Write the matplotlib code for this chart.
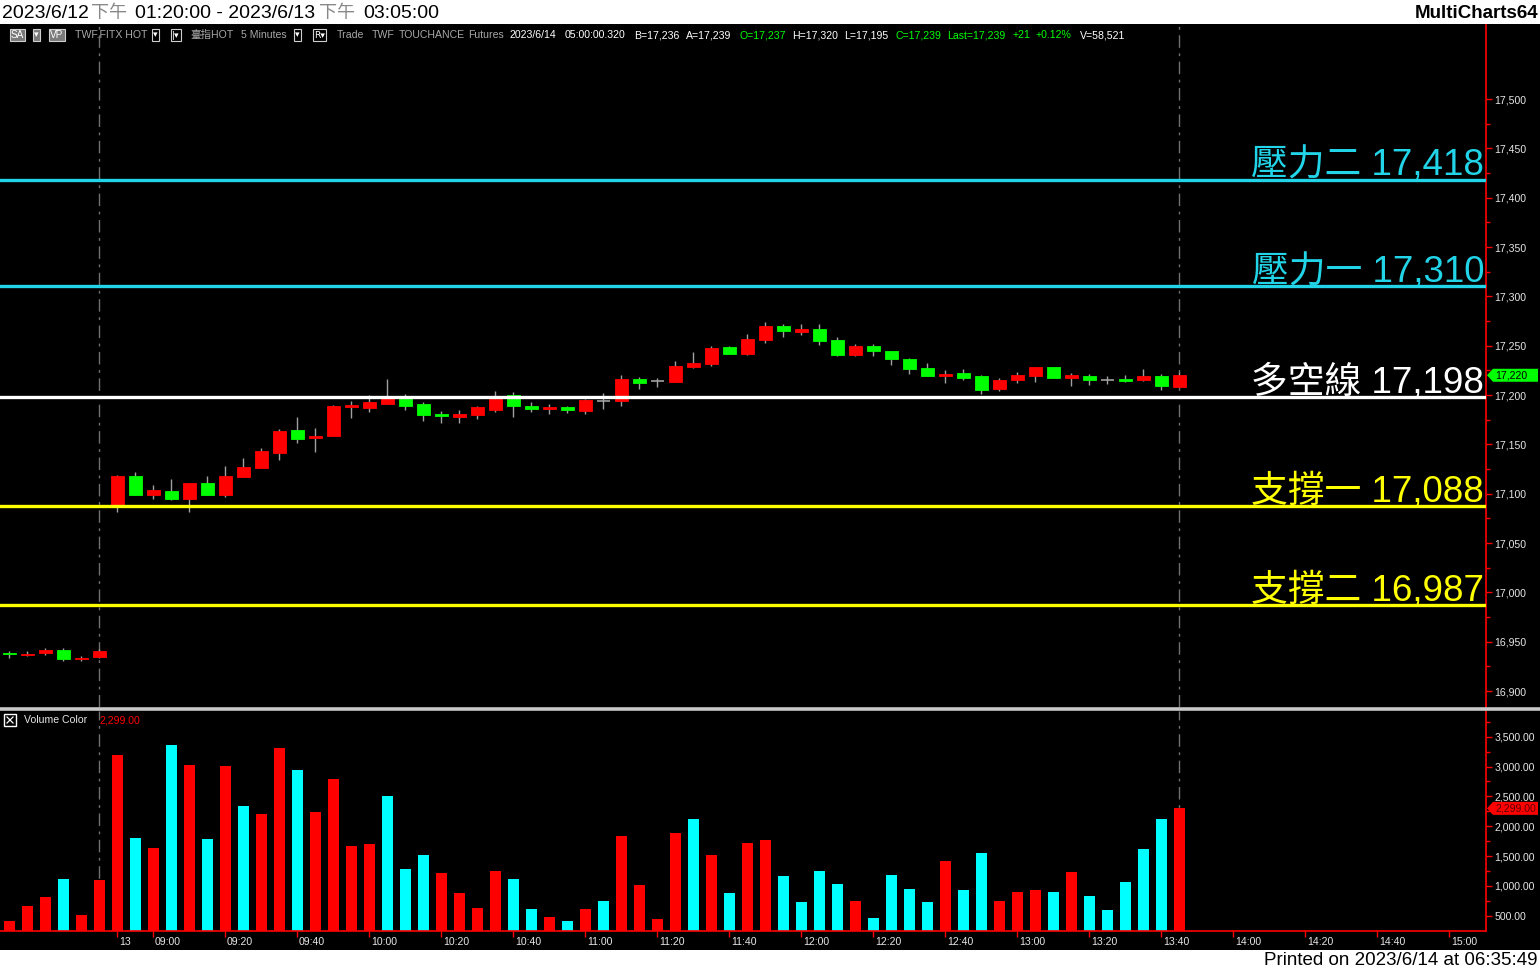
import matplotlib
matplotlib.use('Agg')
import matplotlib.pyplot as plt
from matplotlib.patches import Rectangle, Polygon
from matplotlib.lines import Line2D
import matplotlib.transforms as mtransforms
from matplotlib.ticker import MultipleLocator, FixedLocator, FuncFormatter

# ---------------- data ----------------
opens  = [16939, 16937, 16939, 16942, 16932, 16934,
          17089, 17118, 17099, 17103, 17095, 17111, 17099, 17117, 17126, 17141,
          17165, 17156, 17158, 17188, 17187, 17191, 17196, 17191, 17181, 17178,
          17180, 17185, 17200, 17189, 17186, 17188, 17184, 17194, 17194, 17216,
          17214, 17213, 17228, 17231, 17249, 17242, 17256, 17270, 17264, 17267,
          17256, 17241, 17250, 17245, 17237, 17227, 17219, 17222, 17219, 17206,
          17215, 17219, 17228, 17217, 17219, 17215, 17216, 17215, 17219, 17208]
highs  = [16941, 16941, 16944, 16944, 16935, 16943,
          17119, 17122, 17109, 17115, 17111, 17118, 17128, 17136, 17146, 17166,
          17178, 17167, 17190, 17194, 17200, 17216, 17201, 17193, 17184, 17185,
          17189, 17204, 17203, 17193, 17191, 17189, 17196, 17202, 17220, 17218,
          17217, 17234, 17244, 17250, 17250, 17262, 17274, 17272, 17272, 17272,
          17259, 17252, 17252, 17245, 17238, 17232, 17225, 17226, 17220, 17217,
          17223, 17228, 17228, 17222, 17221, 17219, 17220, 17226, 17221, 17223]
lows   = [16933, 16935, 16936, 16930, 16930, 16933,
          17081, 17099, 17095, 17094, 17081, 17099, 17097, 17117, 17126, 17134,
          17151, 17142, 17158, 17177, 17183, 17191, 17185, 17174, 17172, 17172,
          17176, 17183, 17178, 17183, 17181, 17182, 17181, 17186, 17189, 17206,
          17208, 17213, 17227, 17229, 17242, 17241, 17253, 17259, 17261, 17251,
          17240, 17240, 17240, 17230, 17221, 17219, 17212, 17215, 17201, 17204,
          17212, 17213, 17217, 17209, 17210, 17211, 17213, 17214, 17205, 17208]
closes = [16938, 16938, 16942, 16932, 16933, 16941,
          17118, 17099, 17104, 17095, 17111, 17099, 17118, 17127, 17143, 17164,
          17155, 17158, 17189, 17190, 17193, 17197, 17189, 17180, 17179, 17181,
          17188, 17196, 17189, 17186, 17188, 17185, 17195, 17194, 17216, 17212,
          17214, 17229, 17232, 17248, 17242, 17257, 17270, 17265, 17267, 17255,
          17241, 17250, 17245, 17237, 17226, 17219, 17221, 17217, 17205, 17215,
          17220, 17228, 17217, 17220, 17215, 17215, 17214, 17219, 17209, 17220]

volumes = [411, 663, 814, 1115, 512, 1098,
           3193, 1802, 1634, 3361, 3026, 1785, 3009, 2339, 2205, 3311,
           2942, 2238, 2791, 1668, 1702, 2506, 1283, 1517, 1215, 880,
           629, 1249, 1115, 612, 478, 411, 612, 746, 1839, 1015,
           444, 1887, 2121, 1517, 880, 1718, 1769, 1165, 729, 1249,
           1031, 746, 461, 1182, 948, 729, 1417, 931, 1551, 746,
           899, 931, 899, 1232, 831, 596, 1065, 1618, 2121, 2299]
vol_colors = list("RRRCRR" "RCRCRCRCRR" "CRRRRCCCRR" "RRCCRCRCRR"
                  "RRCRCRRCCC" "CRCCCCRCCR" "RRCRCCCCCR")

tick_pos = [6, 8, 12, 16, 20, 24, 28, 32, 36, 40, 44, 48, 52, 56, 60, 64, 68, 72, 76, 80]
tick_labels = ["13", "09:00", "09:20", "09:40", "10:00", "10:20", "10:40", "11:00",
               "11:20", "11:40", "12:00", "12:20", "12:40", "13:00", "13:20", "13:40",
               "14:00", "14:20", "14:40", "15:00"]

price_ticks = [16900, 16950, 17000, 17050, 17100, 17150, 17200, 17250,
               17300, 17350, 17400, 17450, 17500]
volume_ticks = [500, 1000, 1500, 2000, 2500, 3000, 3500]

level_values = [17418, 17310, 17198, 17088, 16987]
level_names = ["壓力二", "壓力一", "多空線", "支撐一", "支撐二"]
level_colors = ["#22d4e8", "#22d4e8", "#ffffff", "#ffff00", "#ffff00"]

last_price = 17220
last_volume = 2299.00

# ---------------- layout ----------------
W, H = 1540, 971
def fx(x): return x / W
def fy(y): return 1 - y / H

fig = plt.figure(figsize=(W / 100, H / 100), dpi=100, facecolor='black')

fig.patches.append(Rectangle((0, fy(24)), 1, 24 / H, transform=fig.transFigure,
                             facecolor='white', edgecolor='none', zorder=0))
fig.patches.append(Rectangle((0, 0), 1, (H - 950) / H, transform=fig.transFigure,
                             facecolor='white', edgecolor='none', zorder=0))

CJK = ['Liberation Sans', 'Noto Sans CJK TC']
SMALL = 7.6
LBL = '#e6e6e6'

# title pieces
fig.text(fx(2), fy(13), "2023/6/12", color='black', fontsize=14, family=CJK, va='center')
fig.text(fx(91), fy(13), "下午", color='#888888', fontsize=13, family=['Noto Sans CJK TC'], va='center')
fig.text(fx(135), fy(13), "01:20:00 - 2023/6/13", color='black', fontsize=14, family=CJK, va='center')
fig.text(fx(319), fy(13), "下午", color='#888888', fontsize=13, family=['Noto Sans CJK TC'], va='center')
fig.text(fx(363), fy(13), "03:05:00", color='black', fontsize=14, family=CJK, va='center')
fig.text(fx(1538), fy(13), "MultiCharts64", color='black', fontsize=13.5, fontweight='bold',
         family=CJK, va='center', ha='right')
fig.text(fx(1538), fy(960), "Printed on 2023/6/14 at 06:35:49", color='black', fontsize=13.5,
         family=CJK, va='center', ha='right')

# info line
def box(x, s):
    fig.text(fx(x), fy(35), s, color='white', fontsize=SMALL - 0.4, family=CJK, va='center',
             bbox=dict(boxstyle='square,pad=0.12', facecolor='#7a7a7a', edgecolor='#cfcfcf', lw=0.8))

def dd(x, s='▾'):
    fig.text(fx(x), fy(35), s, color='white', fontsize=SMALL - 1, family=['DejaVu Sans'], va='center',
             bbox=dict(boxstyle='square,pad=0.15', facecolor='black', edgecolor='#cfcfcf', lw=0.8))

box(11, "SA")
fig.text(fx(34), fy(35), "▾", color='white', fontsize=SMALL - 1, family=['DejaVu Sans'], va='center',
         bbox=dict(boxstyle='square,pad=0.15', facecolor='#7a7a7a', edgecolor='#cfcfcf', lw=0.8))
box(50, "VP")
GRAY = '#a8a8a8'
info_gray = [(75, "TWF.FITX HOT"), (190, "臺指HOT"), (241, "5 Minutes"), (337, "Trade"),
             (372, "TWF"), (399, "TOUCHANCE"), (468, "Futures")]
for x, s in info_gray:
    fig.text(fx(x), fy(35), s, color=GRAY, fontsize=SMALL, family=CJK, va='center')
dd(153)
dd(172, '|▾')
dd(295)
dd(314, 'R▾')
GREEN = '#00ff00'
info_rest = [(510, "2023/6/14", 'white'), (565, "05:00:00.320", 'white'),
             (634, "B=17,236", 'white'), (686, "A=17,239", 'white'),
             (740, "O=17,237", GREEN), (792, "H=17,320", 'white'), (844, "L=17,195", 'white'),
             (895, "C=17,239", GREEN), (947, "Last=17,239", GREEN), (1013, "+21", GREEN),
             (1036, "+0.12%", GREEN), (1080, "V=58,521", 'white')]
for x, s, c in info_rest:
    fig.text(fx(x), fy(35), s, color=c, fontsize=SMALL, family=CJK, va='center')

# axes
AX_R = 1486
ax = fig.add_axes([0, fy(707), fx(AX_R), (707 - 25) / H])
axv = fig.add_axes([0, fy(931), fx(AX_R), (931 - 711) / H])
for a in (ax, axv):
    a.set_facecolor('black')
    a.patch.set_alpha(0)
    for s in ('left', 'top', 'bottom'):
        a.spines[s].set_visible(False)
    a.spines['right'].set_color('#ff0000')
    a.spines['right'].set_linewidth(1.2)
    a.set_xlim(-0.5, (AX_R - 9) / 18)
    a.yaxis.tick_right()
    a.tick_params(axis='y', which='both', colors='#ff0000', labelcolor=LBL, labelsize=SMALL,
                  direction='out', length=4, width=1, pad=2)
    a.tick_params(axis='y', which='minor', length=3)
axv.spines['bottom'].set_visible(True)
axv.spines['bottom'].set_color('#ff0000')
axv.spines['bottom'].set_linewidth(1.2)

ax.set_ylim(16883.8, 17575.0)
axv.set_ylim(243.6, 3930.5)

ax.yaxis.set_major_locator(FixedLocator(price_ticks))
ax.yaxis.set_minor_locator(FixedLocator([t + 25 for t in price_ticks[:-1]]))
ax.yaxis.set_major_formatter(FuncFormatter(lambda v, p: f"{v:,.0f}"))
axv.yaxis.set_major_locator(FixedLocator(volume_ticks))
axv.yaxis.set_minor_locator(FixedLocator([t + 250 for t in volume_ticks]))
axv.yaxis.set_major_formatter(FuncFormatter(lambda v, p: f"{v:,.2f}"))
for a in (ax, axv):
    for lab in a.get_yticklabels():
        lab.set_family(CJK)
ax.set_xticks([])

# x ticks
axv.set_xticks(tick_pos)
axv.set_xticklabels(tick_labels, ha='left', family='Liberation Sans')
axv.tick_params(axis='x', colors='#ff0000', labelcolor=LBL, labelsize=SMALL,
                direction='out', length=4, width=1, pad=0.5)
offset = mtransforms.ScaledTranslation(2 / 100, 0, fig.dpi_scale_trans)
for lab in axv.get_xticklabels():
    lab.set_transform(lab.get_transform() + offset)

# candles
BODY_W = 13 / 18
WICK = '#a0a0a0'
for i, (o, h, l, c) in enumerate(zip(opens, highs, lows, closes)):
    ax.vlines(i, l, h, color=WICK, lw=1.0, zorder=2)
    if c == o:
        ax.hlines(o, i - BODY_W / 2, i + BODY_W / 2, color=WICK, lw=1.2, zorder=3)
    else:
        col = '#ff0000' if c > o else '#00ff00'
        ax.add_patch(Rectangle((i - BODY_W / 2, min(o, c)), BODY_W, abs(c - o),
                               facecolor=col, edgecolor=col, lw=0.6, zorder=3))

# volume bars
cmap = {'R': '#ff0000', 'C': '#00ffff'}
axv.bar(range(len(volumes)), volumes, width=11 / 18,
        color=[cmap[c] for c in vol_colors], zorder=2)

# level lines & labels
for v, name, col in zip(level_values, level_names, level_colors):
    ax.axhline(v, color=col, lw=2.4, zorder=4)
    ax.text((AX_R - 11) / 18, v + 4.5, f"{name} {v:,}", color=col, fontsize=26.5,
            family=CJK, ha='right', va='baseline', zorder=5)

# dashed vertical session lines
for a in (ax, axv):
    for xi in (5, 65):
        a.axvline(xi, color='#707070', lw=1, linestyle=(0, (9, 4, 2, 4)), zorder=1)

# separator
fig.lines.append(Line2D([0, fx(1540)], [fy(708.5), fy(708.5)], transform=fig.transFigure,
                        color='#c8c8c8', lw=2.6))

# tags on right axis
def tag(ycen, txt, fc, tc):
    x0, x1 = AX_R + 1, 1538
    h = 6.5
    pts = [(fx(x0), fy(ycen)), (fx(x0 + 6), fy(ycen - h)), (fx(x1), fy(ycen - h)),
           (fx(x1), fy(ycen + h)), (fx(x0 + 6), fy(ycen + h))]
    fig.patches.append(Polygon(pts, closed=True, transform=fig.transFigure,
                               facecolor=fc, edgecolor='none', zorder=5))
    fig.text(fx(x0 + 8), fy(ycen), txt, color=tc, fontsize=SMALL, family=CJK,
             va='center', ha='left', zorder=6)

y_last = 25 + (17575.0 - last_price) / (17575.0 - 16883.8) * 682
tag(y_last, f"{last_price:,}", '#00ff00', 'black')
y_vol = 711 + (3930.5 - last_volume) / (3930.5 - 243.6) * 220
tag(y_vol, f"{last_volume:,.2f}", '#ff0000', '#5a0000')

# volume legend
fig.patches.append(Rectangle((fx(4), fy(726)), 12 / W, 12 / H, transform=fig.transFigure,
                             facecolor='none', edgecolor='white', lw=1, zorder=1))
fig.lines.append(Line2D([fx(7), fx(13)], [fy(717), fy(723)], transform=fig.transFigure,
                        color='white', lw=0.9, zorder=10))
fig.lines.append(Line2D([fx(7), fx(13)], [fy(723), fy(717)], transform=fig.transFigure,
                        color='white', lw=0.9, zorder=10))
fig.text(fx(24), fy(720), "Volume Color", color=LBL, fontsize=SMALL, family=CJK, va='center')
fig.text(fx(100), fy(720), f"{last_volume:,.2f}", color='#ff0000', fontsize=SMALL, family=CJK, va='center')

fig.savefig('out.png', dpi=100, facecolor='black')
